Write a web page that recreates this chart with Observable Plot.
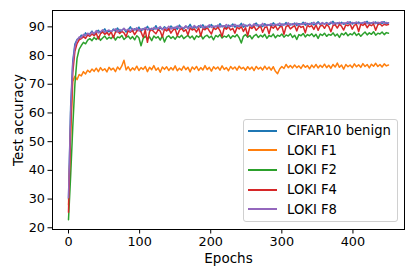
<!DOCTYPE html>
<html>
<head>
<meta charset="utf-8">
<script src="https://cdn.jsdelivr.net/npm/d3@7"></script>
<script src="https://cdn.jsdelivr.net/npm/@observablehq/plot@0.6"></script>
<style>
  html, body { margin: 0; padding: 0; background: #fff; }
  #wrap { position: relative; width: 415px; height: 277px; font-family: "DejaVu Sans", sans-serif; }
  #legend { position: absolute; left: 243px; top: 119px; width: 155px; height: 103px;
    border: 1px solid #d0d0d0; border-radius: 3px; background: rgba(255,255,255,0.85);
    box-sizing: border-box; padding: 1px 0 0 4px; }
  .row { display: flex; align-items: center; height: 19.6px; font-size: 13.2px; color: #000; }
  .sw { width: 29px; height: 0; border-top: 2px solid; margin-right: 10px; }
</style>
</head>
<body>
<div id="wrap"></div>
<script>
// Epoch step between logged points
const epochStep = 3;
const seriesNames = ["CIFAR10 benign", "LOKI F1", "LOKI F2", "LOKI F4", "LOKI F8"];
const seriesColors = ["#1f77b4", "#ff7f0e", "#2ca02c", "#d62728", "#9467bd"];
const xTicks = [0, 100, 200, 300, 400];
const yTicks = [20, 30, 40, 50, 60, 70, 80, 90];

const benign = [
30.0,62,78,84.0,85.6,86.0,87.1,86.5,87.9,87.0,
87.6,88.5,87.3,88.2,88.8,87.8,88.4,89.3,88.0,88.6,
88.1,89.2,88.5,89.6,88.3,88.9,89.4,88.2,89.0,90.0,
88.6,89.3,88.8,89.9,88.5,89.4,89.0,90.2,88.8,89.5,
89.1,90.4,88.9,89.6,89.2,90.0,89.4,88.9,90.3,89.5,
89.9,89.2,90.6,89.6,89.3,90.2,89.7,90.9,89.4,90.1,
89.6,90.4,89.8,90.7,89.5,90.2,89.9,90.8,89.7,90.3,
89.8,91.1,90.0,90.4,89.7,90.6,90.1,91.0,89.9,90.5,
90.2,91.2,89.9,90.6,90.3,90.9,90.0,90.7,91.3,90.2,
90.6,90.1,91.1,90.4,90.8,90.2,91.4,90.5,90.9,90.3,
91.0,90.6,91.5,90.4,91.0,90.7,91.3,90.5,91.1,90.8,
91.6,90.6,91.2,90.9,91.4,90.7,91.1,91.8,90.8,91.3,
91.0,91.5,90.8,91.2,91.9,90.9,91.4,91.0,91.6,90.9,
91.3,91.1,91.8,91.0,91.4,91.1,91.7,90.9,91.5,91.2,
91.9,91.0,91.4,91.2,91.7,91.0,91.5,91.2,91.8,91.1,
91.4];

const lokiF1 = [
28,52,71,72.8,71.6,73.4,72.9,74.4,73.6,74.9,
74.2,75.3,74.5,75.6,74.4,75.8,74.8,75.4,74.3,75.9,
75.0,75.6,74.4,76.0,75.1,76.4,78.4,75.0,76.1,74.7,
75.7,75.0,76.3,74.8,75.8,75.2,76.2,74.4,75.9,75.1,
76.5,74.9,75.7,74.2,76.0,75.2,76.1,74.8,75.8,75.0,
76.4,74.7,75.6,74.9,76.3,75.1,75.9,74.3,76.0,75.2,
76.2,74.8,75.8,75.0,76.5,75.1,75.9,74.6,76.1,75.3,
76.0,74.9,76.4,75.2,75.8,74.7,76.2,75.3,76.0,74.9,
76.3,75.4,75.9,74.9,76.1,75.2,76.0,74.8,76.2,75.3,
75.9,75.0,76.3,75.2,76.0,74.9,76.1,74.5,73.7,75.3,
76.2,75.5,76.9,75.8,76.5,75.7,76.7,75.8,76.4,75.5,
76.8,75.9,76.5,75.4,76.7,75.8,76.9,75.7,76.6,75.9,
77.0,75.8,76.6,75.6,76.9,76.0,77.4,75.9,76.7,75.3,
76.9,76.1,76.7,75.8,77.1,76.1,76.8,75.9,77.2,76.2,
76.9,75.7,77.0,76.3,77.3,76.2,76.9,76.0,77.1,76.4,
76.7];

const lokiF2 = [
22.8,38,55,70,79,82.2,83.5,84.6,84.1,85.4,
85.9,85.2,86.3,85.6,86.6,85.3,86.1,86.8,85.7,86.4,
85.9,86.9,85.4,86.5,86.2,87.0,85.6,86.3,86.8,85.8,
86.6,85.5,86.9,86.2,83.4,86.0,86.7,85.8,86.5,85.2,
86.8,86.1,86.6,85.4,86.9,84.7,86.4,86.9,86.0,86.6,
85.7,86.8,86.3,87.1,85.9,86.5,87.0,86.1,86.8,85.6,
86.9,86.4,87.2,85.8,86.7,87.1,86.2,86.8,85.5,87.0,
86.5,87.3,86.1,86.8,86.4,87.2,86.0,86.9,86.5,87.3,
86.2,84.4,86.7,87.3,86.4,87.0,85.8,86.9,87.4,86.3,
87.1,86.5,87.4,86.0,87.0,86.6,87.5,86.2,87.1,86.7,
87.5,86.4,87.2,86.8,87.6,86.3,87.1,85.6,87.3,86.9,
87.7,86.5,87.3,86.9,87.6,86.6,87.4,86.0,87.5,87.0,
87.8,86.7,87.4,87.1,87.9,86.8,87.5,86.3,87.7,87.2,
88.0,86.9,87.6,87.2,88.1,87.0,87.7,86.7,87.5,88.2,
87.2,87.9,87.4,88.3,87.1,87.8,87.5,88.2,87.3,88.0,
87.8];

const lokiF4 = [
25.4,55,74,81.5,84.2,85.5,85.9,86.6,86.0,87.2,
86.7,87.5,86.9,87.8,85.8,87.6,88.2,87.4,88.0,87.1,
88.3,86.2,88.1,88.6,87.7,88.4,87.9,86.6,88.7,88.1,
88.8,87.3,88.5,89.0,88.2,86.4,88.9,84.6,88.4,89.1,
88.3,87.6,89.0,88.5,86.5,89.2,88.6,89.4,87.8,88.9,
89.3,86.9,88.8,89.5,88.4,89.1,87.2,89.6,88.9,89.3,
88.2,89.7,86.8,89.4,89.0,89.8,88.6,87.5,89.6,89.1,
89.9,88.7,86.6,89.7,89.2,90.0,88.9,89.5,87.8,89.9,
89.3,90.1,88.4,89.7,86.9,90.0,89.4,90.2,88.8,89.6,
90.3,88.1,89.8,90.0,87.6,90.2,89.5,90.4,88.9,89.9,
90.3,87.4,90.1,90.5,89.3,89.9,90.4,88.6,90.6,89.8,
90.2,87.9,90.6,90.0,90.4,89.1,90.7,88.8,90.3,90.6,
89.5,90.8,90.1,88.3,90.5,90.7,89.6,90.9,90.2,88.9,
90.7,90.4,91.0,89.2,90.6,90.8,88.4,90.9,90.5,91.1,
89.7,90.8,90.4,91.0,88.8,90.7,91.1,90.3,90.9,90.6,
90.8];

const lokiF8 = [
30.5,60,77,83.2,85.3,86.5,86.2,87.4,86.9,87.8,
87.2,88.2,87.6,88.7,87.9,88.3,89.0,88.1,88.6,88.9,
88.4,88.8,89.3,88.2,89.1,88.6,89.5,88.7,89.2,88.5,
89.4,88.9,89.7,88.6,89.3,89.0,89.8,88.9,89.5,89.1,
89.8,89.2,89.5,90.1,89.0,89.7,89.3,90.2,89.2,89.8,
89.5,90.3,89.4,89.9,89.6,90.4,89.3,90.0,89.7,90.5,
89.8,90.1,90.6,89.6,90.2,89.9,90.7,89.8,90.3,90.0,
90.6,89.9,90.4,90.1,90.8,90.0,90.5,90.2,90.9,90.1,
90.6,90.3,91.0,90.1,90.5,90.8,90.2,91.1,90.4,90.7,
90.4,91.2,90.3,90.8,90.5,91.1,90.4,90.9,90.6,91.3,
90.5,91.0,90.7,91.4,90.6,91.1,90.8,91.3,90.6,91.0,
90.9,91.5,90.7,91.2,90.9,91.6,90.8,91.3,91.0,91.5,
90.9,91.3,91.1,91.7,90.9,91.4,91.1,91.6,91.0,91.4,
91.2,91.8,91.0,91.5,91.2,91.7,91.1,91.4,91.3,91.8,
91.1,91.5,91.2,91.7,91.1,91.6,91.3,91.8,91.2,91.5,
91.3];

const allSeries = [benign, lokiF1, lokiF2, lokiF4, lokiF8];
const rows = allSeries.flatMap((vals, s) =>
  vals.map((v, i) => ({epoch: i * epochStep, acc: v, series: seriesNames[s]})));

const chart = Plot.plot({
  width: 415, height: 277,
  marginLeft: 52, marginRight: 11, marginTop: 10, marginBottom: 48,
  style: {fontFamily: "DejaVu Sans, sans-serif", fontSize: "12.8px", color: "#000", background: "#fff"},
  x: {domain: [-22.5, 472.5]},
  y: {domain: [19.4, 95.7]},
  color: {domain: seriesNames, range: seriesColors},
  marks: [
    Plot.lineY(rows, {x: "epoch", y: "acc", stroke: "series", z: "series", strokeWidth: 1.5}),
    Plot.frame({stroke: "#000", strokeWidth: 1}),
    Plot.axisX({ticks: xTicks, tickSize: 4.5, tickPadding: 3, fontSize: 12.8, label: null}),
    Plot.axisX({ticks: [], tickSize: 0, label: "Epochs", labelAnchor: "center", labelArrow: "none", labelOffset: 33, fontSize: 13.5}),
    Plot.axisY({ticks: yTicks, tickSize: 4.5, tickPadding: 3, fontSize: 12.8, label: null}),
    Plot.axisY({ticks: [], tickSize: 0, label: "Test accuracy", labelAnchor: "center", labelArrow: "none", labelOffset: 39, fontSize: 13.5})
  ]
});
const wrap = document.getElementById("wrap");
wrap.appendChild(chart);

const legend = document.createElement("div");
legend.id = "legend";
seriesNames.forEach((n, i) => {
  const r = document.createElement("div");
  r.className = "row";
  const sw = document.createElement("span");
  sw.className = "sw";
  sw.style.borderColor = seriesColors[i];
  const t = document.createElement("span");
  t.textContent = n;
  r.appendChild(sw); r.appendChild(t);
  legend.appendChild(r);
});
wrap.appendChild(legend);
</script>
</body>
</html>
